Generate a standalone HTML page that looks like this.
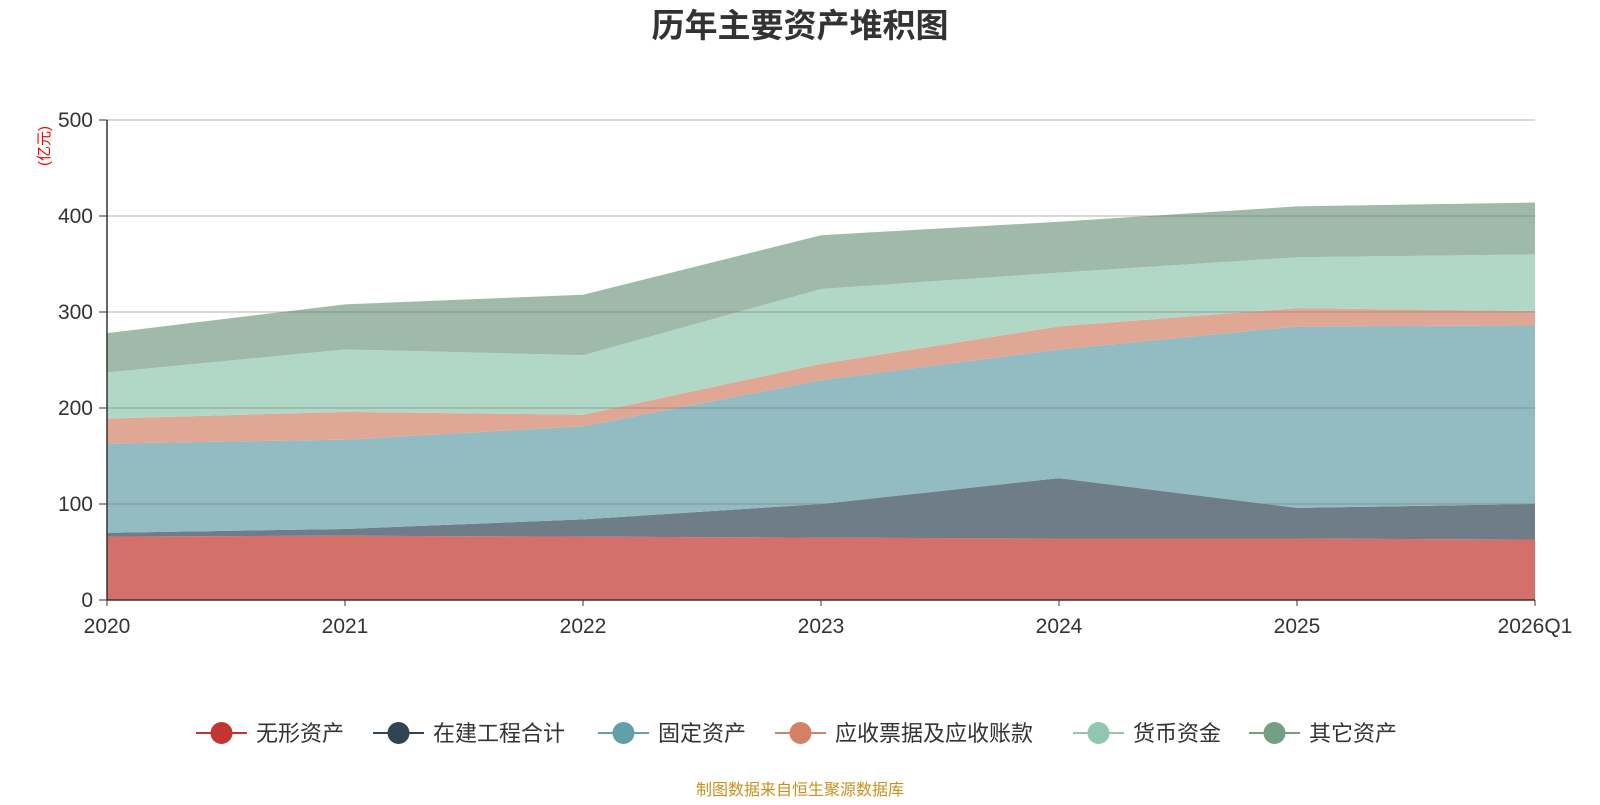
<!DOCTYPE html>
<html><head><meta charset="utf-8"><style>
body{margin:0;background:#fff;font-family:"Liberation Sans","Noto Sans CJK SC",sans-serif;}
</style></head><body>
<svg id="chart" width="1600" height="800" xmlns="http://www.w3.org/2000/svg">
<text x="800" y="37" text-anchor="middle" font-size="33" font-weight="bold" fill="#333" font-family="Liberation Sans,Noto Sans CJK SC,sans-serif">历年主要资产堆积图</text>
<text transform="translate(49,146) rotate(-90)" text-anchor="middle" font-size="15" fill="#e00" font-family="Liberation Sans,Noto Sans CJK SC,sans-serif">(亿元)</text>
<g id="areas"></g><g id="grid"></g><g id="axes"></g><g id="legend"></g>
<text x="800" y="795" text-anchor="middle" font-size="16" fill="#c8901e" font-family="Liberation Sans,Noto Sans CJK SC,sans-serif">制图数据来自恒生聚源数据库</text>
</svg>
<script>
const categories=["2020","2021","2022","2023","2024","2025","2026Q1"];
const seriesNames=["无形资产","在建工程合计","固定资产","应收票据及应收账款","货币资金","其它资产"];
const intangible=[66,67,66,65,64,64,63];
const construction=[4,7,18,35,63,32,37];
const fixedAssets=[93,93,97,129,134,189,186];
const receivables=[26,29,12,17,24,19,15];
const cash=[48,65,62,78,56,53,59];
const other=[41,47,63,56,53,53,54];
const yTicks=[0,100,200,300,400,500];
const fills=["#d4706c","#6f7d88","#92bbc2","#e0a795","#b1d8c7","#9fbaa8"];
const marks=["#c23531","#2f4554","#61a0a8","#d48265","#91c7ae","#749f83"];
const NS="http://www.w3.org/2000/svg";
const x0=107,x1=1535,y0=600,y1=120;
const xs=i=>x0+i*(x1-x0)/(categories.length-1);
const ys=v=>y0-v*(y0-y1)/500;
function mk(t,a,p){const e=document.createElementNS(NS,t);for(const k in a)e.setAttribute(k,a[k]);p.appendChild(e);return e;}
const data=[intangible,construction,fixedAssets,receivables,cash,other];
let base=categories.map(()=>0);
const areas=document.getElementById('areas');
data.forEach((s,si)=>{
  const top=base.map((b,i)=>b+s[i]);
  let d=top.map((v,i)=>(i?'L':'M')+xs(i)+','+ys(v)).join('');
  for(let i=categories.length-1;i>=0;i--)d+='L'+xs(i)+','+ys(base[i]);
  const p=mk('path',{d:d+'Z',fill:fills[si]},areas);
  
  
  base=top;
});
const grid=document.getElementById('grid'),axes=document.getElementById('axes');
yTicks.forEach(t=>{
  if(t>0){const l=mk('line',{x1:x0,x2:x1,y1:ys(t),y2:ys(t),stroke:'rgba(120,120,120,0.45)','stroke-width':1.2},grid);
  
  }
  mk('line',{x1:x0-8,x2:x0,y1:ys(t),y2:ys(t),stroke:'#333'},axes);
  const tx=mk('text',{x:x0-14,y:ys(t)+7,'text-anchor':'end','font-size':21,fill:'#333'},axes);
  tx.textContent=t;
  
  
});
mk('line',{x1:x0,x2:x0,y1:y1,y2:y0,stroke:'#333','stroke-width':1.5},axes);
mk('line',{x1:x0,x2:x1,y1:y0,y2:y0,stroke:'#333','stroke-width':1.5},axes);
categories.forEach((c,i)=>{
  mk('line',{x1:xs(i),x2:xs(i),y1:y0,y2:y0+6,stroke:'#333'},axes);
  const tx=mk('text',{x:xs(i),y:y0+33,'text-anchor':'middle','font-size':21,fill:'#333'},axes);
  tx.textContent=c;
  
  
});
const lg=document.getElementById('legend');
const lx=[196,373,598,775,1073,1249];
seriesNames.forEach((n,i)=>{
  const g=mk('g',{},lg);
  
  
  mk('line',{x1:lx[i],x2:lx[i]+51,y1:733,y2:733,stroke:marks[i],'stroke-width':2},g);
  mk('circle',{cx:lx[i]+25.5,cy:733,r:11,fill:marks[i]},g);
  const t=mk('text',{x:lx[i]+60,y:741,'font-size':22,fill:'#333'},g);
  t.textContent=n;
});
</script>
</body></html>
